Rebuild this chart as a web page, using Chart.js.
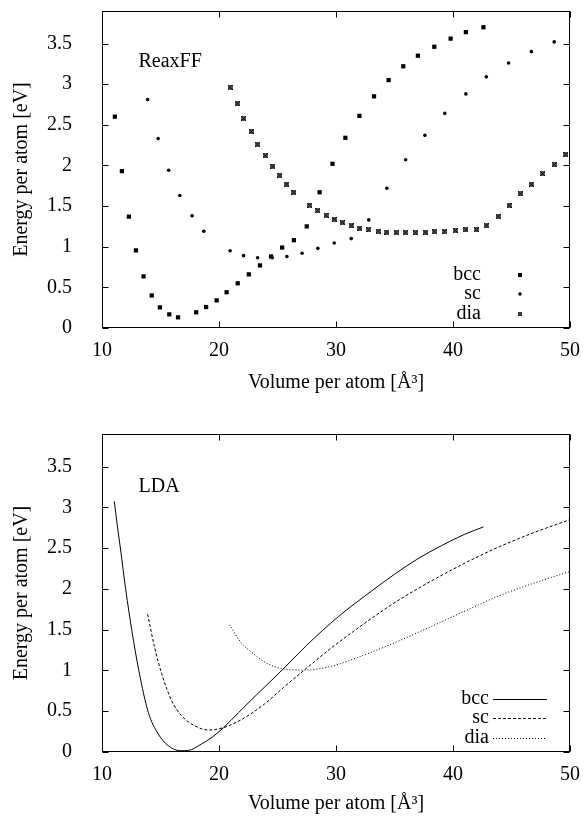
<!DOCTYPE html>
<html><head><meta charset="utf-8">
<script src="https://cdn.jsdelivr.net/npm/chart.js@4/dist/chart.umd.min.js"></script>
<style>
html,body{margin:0;padding:0;background:#fff;width:584px;height:816px;overflow:hidden}
canvas{position:absolute;left:0}
#c1{top:0}
#c2{top:423px}
</style></head><body>
<canvas id="c1" width="584" height="410"></canvas>
<canvas id="c2" width="584" height="393"></canvas>
<script>
// ---- axis ticks ----
const xTicks = [10, 20, 30, 40, 50];
const yTicks = [0, 0.5, 1, 1.5, 2, 2.5, 3, 3.5];
const seriesNames = ['bcc', 'sc', 'dia'];
const panelNames = ['ReaxFF', 'LDA'];
const xTitle = 'Volume per atom [Å³]';
const yTitle = 'Energy per atom [eV]';

// ---- ReaxFF (points) ----
const reaxBccV = [11.1, 11.7, 12.3, 12.9, 13.55, 14.25, 14.95, 15.75, 16.5, 18.05, 18.9, 19.8, 20.65, 21.6, 22.55, 23.5, 24.45, 25.4, 26.4, 27.5, 28.6, 29.7, 30.8, 32.0, 33.25, 34.5, 35.75, 37.0, 38.4, 39.8, 41.1, 42.6];
const reaxBccE = [2.60, 1.93, 1.37, 0.955, 0.635, 0.40, 0.254, 0.168, 0.131, 0.193, 0.258, 0.34, 0.44, 0.55, 0.66, 0.77, 0.88, 0.99, 1.08, 1.25, 1.67, 2.02, 2.34, 2.61, 2.85, 3.05, 3.22, 3.35, 3.46, 3.56, 3.64, 3.70];
const reaxScV = [13.9, 14.8, 15.7, 16.65, 17.7, 18.7, 20.95, 22.1, 23.3, 24.55, 25.8, 27.1, 28.45, 29.85, 31.3, 32.8, 34.35, 35.95, 37.6, 39.3, 41.1, 42.85, 44.75, 46.7, 48.65];
const reaxScE = [2.81, 2.33, 1.94, 1.63, 1.38, 1.19, 0.95, 0.89, 0.865, 0.865, 0.88, 0.92, 0.98, 1.045, 1.10, 1.33, 1.72, 2.07, 2.37, 2.64, 2.88, 3.09, 3.26, 3.40, 3.52];
const reaxDiaV = [20.95, 21.55, 22.1, 22.75, 23.3, 23.95, 24.6, 25.2, 25.75, 26.4, 27.75, 28.45, 29.15, 29.85, 30.55, 31.3, 32.05, 32.8, 33.6, 34.35, 35.15, 35.95, 36.8, 37.65, 38.45, 39.3, 40.2, 41.1, 42.0, 42.85, 43.85, 44.8, 45.75, 46.7, 47.65, 48.65, 49.65];
const reaxDiaE = [2.96, 2.76, 2.58, 2.42, 2.26, 2.12, 1.99, 1.88, 1.77, 1.67, 1.51, 1.445, 1.385, 1.336, 1.295, 1.258, 1.23, 1.21, 1.193, 1.181, 1.172, 1.172, 1.172, 1.18, 1.184, 1.19, 1.20, 1.21, 1.21, 1.258, 1.37, 1.51, 1.65, 1.77, 1.90, 2.01, 2.135];

// ---- LDA (curves) ----
const ldaBccV = [11.05, 11.28, 11.58, 12.03, 12.55, 13.16, 13.96, 14.81, 15.67, 16.67, 17.4, 18.5, 19.4, 20.4, 21.65, 23.2, 25.5, 27.5, 30.2, 33.0, 35.0, 37.0, 39.0, 41.0, 42.6];
const ldaBccE = [3.075, 2.81, 2.49, 1.99, 1.49, 0.99, 0.485, 0.22, 0.077, 0.016, 0.02, 0.098, 0.18, 0.30, 0.48, 0.70, 1.02, 1.31, 1.66, 1.97, 2.18, 2.37, 2.53, 2.67, 2.76];
const ldaScV = [13.9, 14.5, 15.1, 15.95, 16.8, 17.95, 19.1, 20.4, 21.95, 23.9, 25.5, 27.5, 29.5, 31.5, 34.0, 35.5, 37.2, 38.3, 41.2, 44.0, 46.9, 50.0];
const ldaScE = [1.69, 1.28, 0.96, 0.63, 0.445, 0.32, 0.27, 0.30, 0.40, 0.59, 0.79, 1.03, 1.265, 1.48, 1.735, 1.875, 2.02, 2.11, 2.33, 2.52, 2.69, 2.85];
const ldaDiaV = [20.9, 21.95, 22.65, 23.95, 25.5, 27.5, 29.8, 32.6, 35.5, 38.3, 41.2, 44.0, 46.9, 49.9];
const ldaDiaE = [1.56, 1.33, 1.24, 1.10, 1.02, 1.006, 1.06, 1.20, 1.37, 1.55, 1.74, 1.92, 2.07, 2.21];

function pts(v, e) { return v.map((x, i) => ({ x: x, y: e[i] })); }

const FONT = '"Liberation Serif","Times New Roman",serif';
const FS = 20;

function makeDiaMarker() {
  const c = document.createElement('canvas');
  c.width = 5; c.height = 5;
  const g = c.getContext('2d');
  g.fillStyle = '#5a5a5a'; g.fillRect(0, 0, 5, 5);
  g.fillStyle = '#000';
  for (let i = 0; i < 5; i++) { g.fillRect(i, i, 1, 1); g.fillRect(4 - i, i, 1, 1); }
  return c;
}
const diaImg = makeDiaMarker();

const framePlugin = {
  id: 'frame',
  afterDraw(chart, args, opts) {
    const { ctx, scales: { x, y } } = chart;
    ctx.save();
    ctx.strokeStyle = '#000'; ctx.lineWidth = 1;
    const L = Math.round(x.getPixelForValue(x.min)) + 0.5, R = Math.round(x.getPixelForValue(x.max)) - 0.5;
    const T = Math.round(y.getPixelForValue(y.max)) + 0.5, B = Math.round(y.getPixelForValue(y.min)) - 0.5;
    ctx.strokeRect(L, T, R - L, B - T);
    ctx.beginPath();
    xTicks.forEach(v => {
      const px = Math.round(x.getPixelForValue(v)) + 0.5;
      ctx.moveTo(px, B); ctx.lineTo(px, B - 6);
      ctx.moveTo(px, T); ctx.lineTo(px, T + 6);
    });
    yTicks.forEach(v => {
      const py = Math.round(y.getPixelForValue(v)) + 0.5;
      ctx.moveTo(L, py); ctx.lineTo(L + 6, py);
      ctx.moveTo(R, py); ctx.lineTo(R - 6, py);
    });
    ctx.stroke();

    ctx.fillStyle = '#000';
    ctx.font = FS + 'px ' + FONT;
    ctx.textBaseline = 'middle';
    ctx.textAlign = 'left';
    ctx.fillText(opts.label, L + 36, T + opts.labelDy);

    const rows = [53, 33.5, 14];
    chart.data.datasets.forEach((ds, i) => {
      const yy = B - rows[i];
      ctx.textAlign = 'right';
      ctx.fillStyle = '#000';
      ctx.fillText(ds.label, opts.legendX, yy);
      if (opts.mode === 'points') {
        const mx = 520;
        if (i === 0) ctx.fillRect(mx - 2, Math.round(yy) - 2, 4, 4);
        else if (i === 1) { ctx.beginPath(); ctx.arc(mx, yy, 1.7, 0, Math.PI * 2); ctx.fill(); }
        else ctx.drawImage(diaImg, mx - 2, Math.round(yy) - 2, 4, 4);
      } else {
        ctx.beginPath();
        ctx.setLineDash(ds.borderDash || []);
        ctx.lineWidth = 1;
        ctx.moveTo(opts.legendX + 4, Math.round(yy) + 0.5);
        ctx.lineTo(opts.legendX + 58, Math.round(yy) + 0.5);
        ctx.stroke();
        ctx.setLineDash([]);
      }
    });
    ctx.restore();
  }
};

function makeScales(xHeight, xTitlePad) {
  const font = { family: FONT, size: FS };
  return {
    x: {
      type: 'linear', min: 10, max: 50,
      afterBuildTicks: s => { s.ticks = xTicks.map(v => ({ value: v })); },
      afterFit: s => { s.height = xHeight; s.paddingLeft = 0; s.paddingRight = 14; s.paddingTop = 0; s.paddingBottom = 0; },
      grid: { display: false, drawTicks: false }, border: { display: false },
      ticks: { padding: 11, color: '#000', font: font, callback: v => String(v), maxRotation: 0 },
      title: { display: true, text: xTitle, color: '#000', font: font, padding: { top: 0, bottom: xTitlePad } }
    },
    y: {
      type: 'linear', min: 0, max: 3.9,
      afterBuildTicks: s => { s.ticks = yTicks.map(v => ({ value: v })); },
      afterFit: s => { s.width = 102; s.paddingLeft = 0; s.paddingRight = 0; s.paddingTop = 11; s.paddingBottom = 0; },
      grid: { display: false, drawTicks: false }, border: { display: false },
      ticks: { padding: 30, color: '#000', font: font, callback: v => String(v) },
      title: { display: true, text: yTitle, color: '#000', font: font, padding: { top: 10, bottom: 0 } }
    }
  };
}

new Chart(document.getElementById('c1'), {
  type: 'scatter',
  data: {
    datasets: [
      { label: seriesNames[0], data: pts(reaxBccV, reaxBccE), pointStyle: 'rect', pointRadius: 3.0, backgroundColor: '#000', borderWidth: 0 },
      { label: seriesNames[1], data: pts(reaxScV, reaxScE), pointStyle: 'circle', pointRadius: 1.8, backgroundColor: '#000', borderWidth: 0 },
      { label: seriesNames[2], data: pts(reaxDiaV, reaxDiaE), pointStyle: diaImg, pointRadius: 2.5, backgroundColor: '#000', borderWidth: 0 }
    ]
  },
  options: {
    responsive: false, animation: false, events: [],
    layout: { padding: { top: 11, right: 14, left: 0, bottom: 0 } },
    plugins: { legend: { display: false }, tooltip: { enabled: false },
      frame: { label: panelNames[0], labelDy: 50, legendX: 481, mode: 'points' } },
    scales: makeScales(82, 15)
  },
  plugins: [framePlugin]
});

const lineBase = { showLine: true, pointRadius: 0, borderColor: '#000', borderWidth: 1, fill: false, cubicInterpolationMode: 'monotone' };
new Chart(document.getElementById('c2'), {
  type: 'scatter',
  data: {
    datasets: [
      Object.assign({ label: seriesNames[0], data: pts(ldaBccV, ldaBccE) }, lineBase),
      Object.assign({ label: seriesNames[1], data: pts(ldaScV, ldaScE), borderDash: [3, 2] }, lineBase),
      Object.assign({ label: seriesNames[2], data: pts(ldaDiaV, ldaDiaE), borderDash: [1, 2] }, lineBase)
    ]
  },
  options: {
    responsive: false, animation: false, events: [],
    layout: { padding: { top: 11, right: 14, left: 0, bottom: 0 } },
    plugins: { legend: { display: false }, tooltip: { enabled: false },
      frame: { label: panelNames[1], labelDy: 52, legendX: 489, mode: 'lines' } },
    scales: makeScales(64, 0)
  },
  plugins: [framePlugin]
});
</script>
</body></html>
